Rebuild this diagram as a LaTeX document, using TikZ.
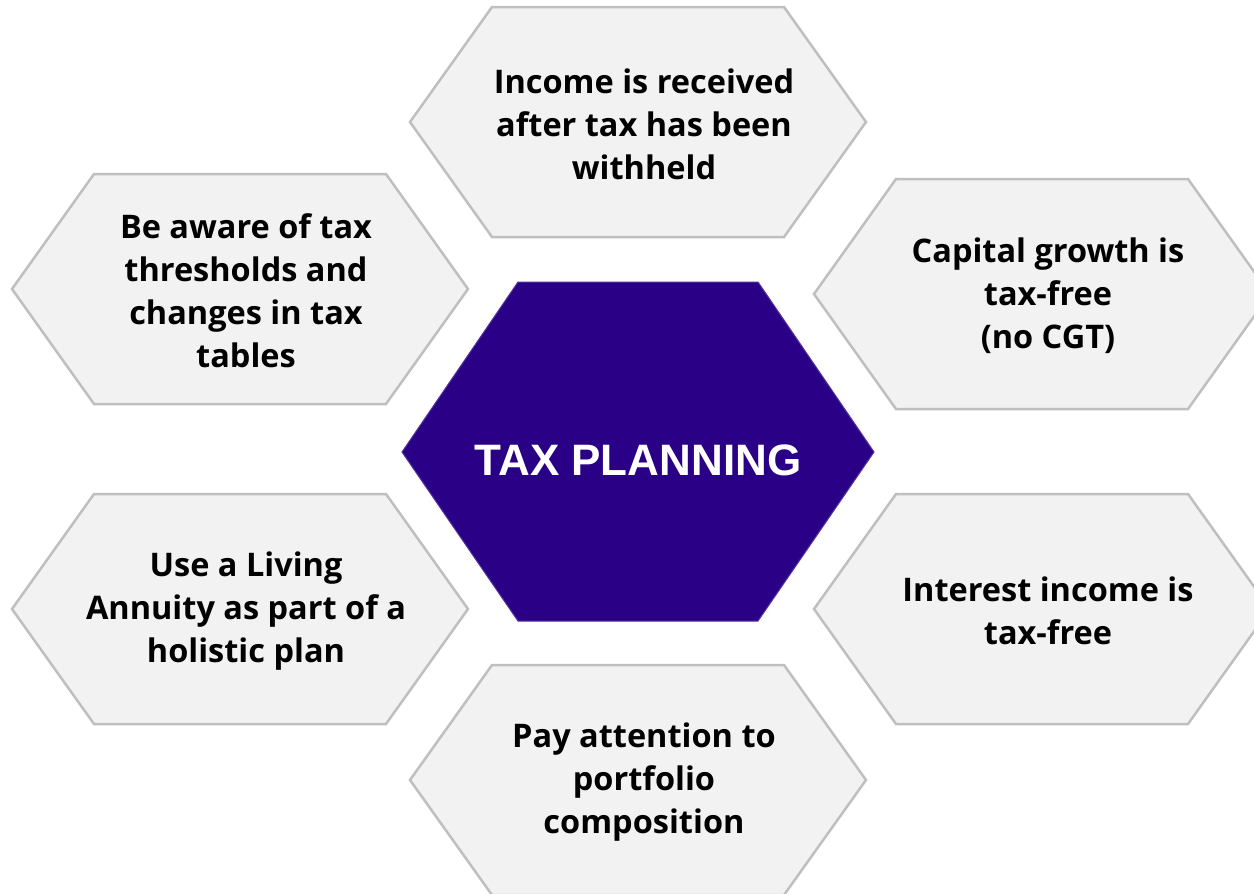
\documentclass[tikz,border=0pt]{standalone}
\usepackage{fontspec}
\setmainfont{Open Sans}
\newfontfamily\titlefont{Liberation Sans}
\definecolor{cellfill}{HTML}{F2F2F2}
\definecolor{cellline}{HTML}{BFBFBF}
\definecolor{hubfill}{HTML}{2A0087}
\tikzset{
    cell/.style={draw=cellline, fill=cellfill, line width=2.5pt, line join=miter},
    celltext/.style={align=center, font=\fontsize{32.5}{43}\selectfont\bfseries, text=black},
    hub/.style={draw=hubfill!80!white, fill=hubfill, line width=1pt},
    hubtext/.style={font=\titlefont\fontsize{44}{50}\selectfont\bfseries, text=white}
}
\begin{document}
\begin{tikzpicture}[x=1pt, y=-1pt]
    \useasboundingbox (0,0) rectangle (1254,894);
    \clip (0,0) rectangle (1254,894);

    % Outer cells
    \foreach \name/\x/\y/\txt in {
        income/638/122/{Income is received\\after tax has been\\withheld},
        aware/240/289/{Be aware of tax\\thresholds and\\changes in tax\\tables},
        growth/1042/294/{Capital growth is\\tax-free\\(no CGT)},
        annuity/240/609/{Use a Living\\Annuity as part of a\\holistic plan},
        interest/1042/609/{Interest income is\\tax-free},
        portfolio/638/780/{Pay attention to\\portfolio\\composition}} {
        \draw[cell] (\x-228,\y) -- (\x-146,\y-115) -- (\x+146,\y-115)
            -- (\x+228,\y) -- (\x+146,\y+115) -- (\x-146,\y+115) -- cycle;
        \node[celltext] (\name) at (\x+6,\y+2) {\txt};
    }

    % Centre cell
    \draw[hub] (402,452) -- (518,282) -- (758,282) -- (874,452)
        -- (758,621) -- (518,621) -- cycle;
    \node[hubtext] (planning) at (638,460) {TAX PLANNING};
\end{tikzpicture}
\end{document}
